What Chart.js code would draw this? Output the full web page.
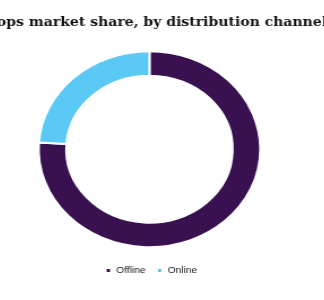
<!DOCTYPE html>
<html>
<head>
<meta charset="utf-8">
<script src="https://cdn.jsdelivr.net/npm/chart.js@4.4.0/dist/chart.umd.min.js"></script>
<style>
html, body { margin: 0; padding: 0; background: #ffffff; overflow: hidden; width: 324px; height: 300px; }
canvas { display: block; }
</style>
</head>
<body>
<canvas id="chart" width="297" height="300" style="width:335.29px;height:300px;margin-left:-5.64px"></canvas>
<script>
// ---- data ----
const chartTitle = 'ops market share, by distribution channel';
const categories = ['Offline', 'Online'];
const shareValues = [76.1, 23.9];

// The reference drawing sits slightly left of the canvas centre while its title is centred on the canvas.
const offsetPlugin = {
  id: 'offsetPlugin',
  afterLayout(chart, args, opts) {
    const a = chart.chartArea;
    a.left += opts.areaDx;
    a.right += opts.areaDx;
    if (chart.legend) {
      chart.legend.left += opts.legendDx;
      chart.legend.right += opts.legendDx;
    }
  }
};

new Chart(document.getElementById('chart'), {
  type: 'doughnut',
  data: {
    labels: categories,
    datasets: [{
      data: shareValues,
      backgroundColor: ['#3a1150', '#5bc9f5'],
      borderColor: '#ffffff',
      borderWidth: 2,
      hoverOffset: 0
    }]
  },
  plugins: [offsetPlugin],
  options: {
    responsive: false,
    animation: false,
    radius: 98,
    cutout: '75%',
    layout: { padding: { top: 0, left: 0, right: 0, bottom: 15 } },
    plugins: {
      offsetPlugin: { areaDx: -11.1, legendDx: -9.5 },
      title: {
        display: true,
        text: chartTitle,
        color: '#111111',
        font: { family: "'DejaVu Serif', serif", size: 12.4, weight: 'bold', lineHeight: 1.2 },
        padding: { top: 15.4, bottom: 12.1 }
      },
      legend: {
        display: true,
        position: 'bottom',
        labels: {
          color: '#1a1a1a',
          font: { family: "'Liberation Sans', Arial, sans-serif", size: 9 },
          boxWidth: 5,
          boxHeight: 5,
          padding: 10
        }
      },
      tooltip: { enabled: false }
    }
  }
});
</script>
</body>
</html>
